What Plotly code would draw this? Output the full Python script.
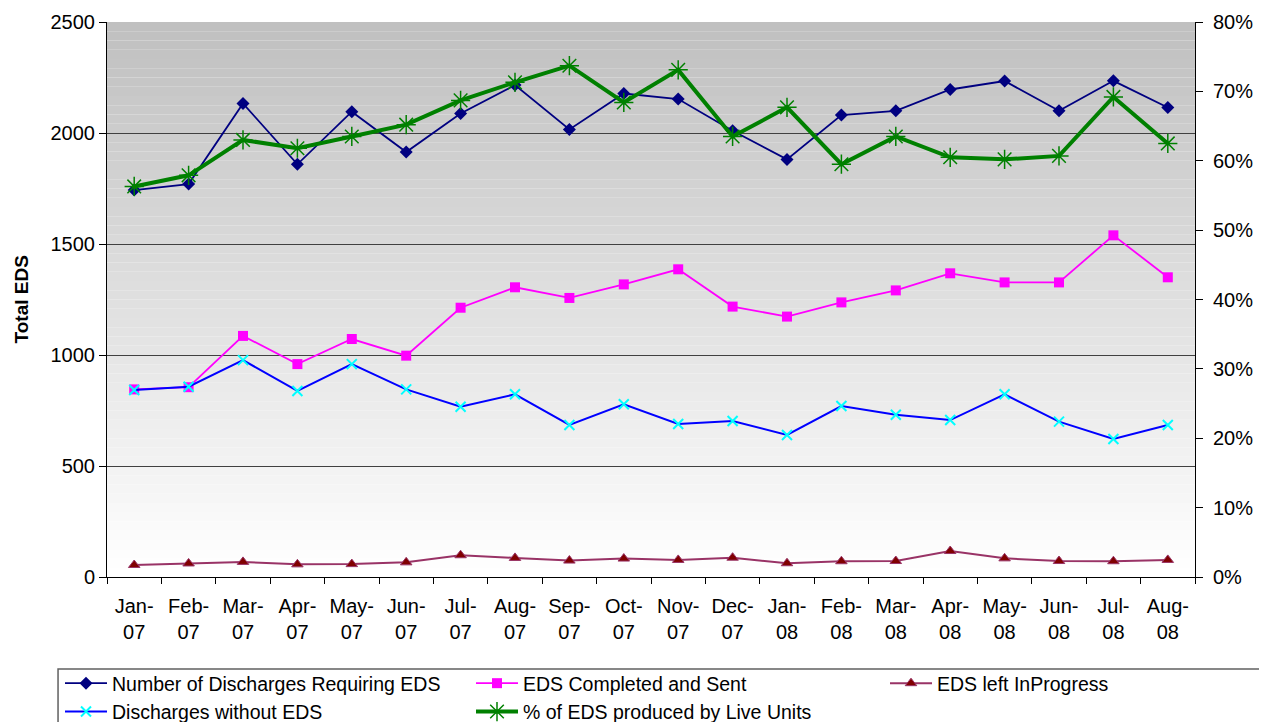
import plotly.graph_objects as go

# ---- data ----
months = ["Jan-07", "Feb-07", "Mar-07", "Apr-07", "May-07", "Jun-07", "Jul-07",
          "Aug-07", "Sep-07", "Oct-07", "Nov-07", "Dec-07", "Jan-08", "Feb-08",
          "Mar-08", "Apr-08", "May-08", "Jun-08", "Jul-08", "Aug-08"]
tick_labels = ["Jan-<br>07", "Feb-<br>07", "Mar-<br>07", "Apr-<br>07", "May-<br>07",
               "Jun-<br>07", "Jul-<br>07", "Aug-<br>07", "Sep-<br>07", "Oct-<br>07",
               "Nov-<br>07", "Dec-<br>07", "Jan-<br>08", "Feb-<br>08", "Mar-<br>08",
               "Apr-<br>08", "May-<br>08", "Jun-<br>08", "Jul-<br>08", "Aug-<br>08"]
requiring_eds = [1743, 1770, 2133, 1859, 2096, 1914, 2088, 2216, 2016, 2178,
                 2153, 2010, 1881, 2081, 2100, 2196, 2234, 2100, 2235, 2115]
completed_sent = [845, 855, 1086, 959, 1072, 997, 1213, 1305, 1257, 1318,
                  1386, 1218, 1173, 1237, 1291, 1368, 1327, 1327, 1539, 1350]
left_in_progress = [54, 61, 68, 57, 58, 66, 98, 86, 74, 83,
                    77, 87, 62, 71, 72, 117, 84, 72, 71, 77]
without_eds = [842, 857, 977, 838, 959, 845, 767, 823, 685, 778,
               689, 703, 640, 770, 731, 707, 823, 700, 622, 685]
pct_live_units = [0.563, 0.579, 0.630, 0.618, 0.635, 0.652, 0.687, 0.713, 0.737, 0.684,
                  0.731, 0.635, 0.677, 0.595, 0.635, 0.605, 0.602, 0.607, 0.692, 0.625]

FONT = "Liberation Sans, Arial, sans-serif"
W, H = 1267, 722
OFF = 8  # page body margin offset

fig = go.Figure()

fig.add_trace(go.Scatter(
    x=months, y=requiring_eds, name="Number of Discharges Requiring EDS",
    mode="lines+markers", line=dict(color="#000080", width=1.8),
    marker=dict(symbol="diamond", size=10, color="#000080"),
    legend="legend"))
fig.add_trace(go.Scatter(
    x=months, y=completed_sent, name="EDS Completed and Sent",
    mode="lines+markers", line=dict(color="#ff00ff", width=1.8),
    marker=dict(symbol="square", size=10, color="#ff00ff"),
    legend="legend2"))
fig.add_trace(go.Scatter(
    x=months, y=left_in_progress, name="EDS left InProgress",
    mode="lines+markers", line=dict(color="#993366", width=2),
    marker=dict(symbol="triangle-up", size=10, color="#800000",
                line=dict(color="#993366", width=1)),
    legend="legend3"))
fig.add_trace(go.Scatter(
    x=months, y=without_eds, name="Discharges without EDS",
    mode="lines+markers", line=dict(color="#0000ff", width=2),
    marker=dict(symbol="x-thin", size=10, color="#00ffff",
                line=dict(color="#00ffff", width=2)),
    legend="legend"))
fig.add_trace(go.Scatter(
    x=months, y=pct_live_units, name="% of EDS produced by Live Units",
    mode="lines+markers", line=dict(color="#008000", width=4), yaxis="y2",
    marker=dict(symbol="asterisk-open", size=16, color="#008000",
                line=dict(color="#008000", width=1.5)),
    legend="legend2"))

# gradient background bands (grey at top to white at bottom)
shapes = []
N = 60
for i in range(N):
    t = i / (N - 1)
    g = int(round(255 - (255 - 192) * t))
    shapes.append(dict(type="rect", xref="paper", yref="paper",
                       x0=0, x1=1, y0=i / N, y1=(i + 1) / N,
                       fillcolor=f"rgb({g},{g},{g})", line=dict(width=0),
                       layer="below"))
# legend frame
shapes.append(dict(type="rect", xref="paper", yref="paper",
                   x0=-0.045, x1=1.075, y0=-0.29, y1=-0.1658,
                   line=dict(color="#606060", width=1.5), fillcolor="rgba(0,0,0,0)",
                   layer="above"))

legend_common = dict(orientation="v", xref="container", yref="container",
                     xanchor="left", yanchor="top", bgcolor="rgba(0,0,0,0)",
                     font=dict(family=FONT, size=19.5, color="black"),
                     itemwidth=42, tracegroupgap=0, borderwidth=0)
leg_top = 1 - 656 / H

fig.update_layout(
    width=W, height=H,
    margin=dict(l=107 - OFF, r=W - 1195 + OFF, t=22 - OFF, b=H - 577 + OFF,
                autoexpand=False),
    paper_bgcolor="white", plot_bgcolor="white",
    font=dict(family=FONT, size=20, color="black"),
    shapes=shapes,
    showlegend=True,
    legend=dict(x=52 / W, y=leg_top, **legend_common),
    legend2=dict(x=463 / W, y=leg_top, **legend_common),
    legend3=dict(x=877 / W, y=leg_top, **legend_common),
    annotations=[dict(text="<b>Total EDS</b>", textangle=-90, showarrow=False,
                      xref="paper", yref="paper", x=(21 - 107) / 1088, y=0.5,
                      xanchor="center", yanchor="middle",
                      font=dict(family=FONT, size=19, color="black"))],
    xaxis=dict(type="category", categoryorder="array", categoryarray=months,
               tickvals=months, ticktext=tick_labels, tickson="boundaries",
               ticks="outside", ticklen=6, tickcolor="black",
               showline=True, linecolor="black", linewidth=1,
               showgrid=False, range=[-0.5, len(months) - 0.5],
               tickfont=dict(family=FONT, size=20), automargin=False,
               ticklabelstandoff=11),
    yaxis=dict(range=[0, 2500], dtick=500, ticks="outside", ticklen=7,
               tickcolor="black", showline=True, linecolor="black", linewidth=1,
               showgrid=True, gridcolor="#404040", gridwidth=1, zeroline=False,
               tickfont=dict(family=FONT, size=20), automargin=False),
    yaxis2=dict(range=[0, 0.8], dtick=0.1, tickformat=".0%", overlaying="y",
                side="right", ticks="outside", ticklen=7, tickcolor="black",
                showline=True, linecolor="black", linewidth=1, showgrid=False,
                zeroline=False, tickfont=dict(family=FONT, size=20),
                automargin=False, ticklabelstandoff=6),
)

fig.write_html("out.html")
